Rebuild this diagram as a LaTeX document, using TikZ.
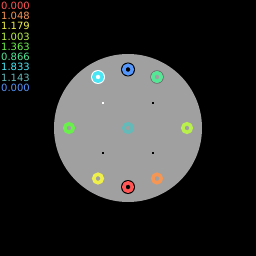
\documentclass[tikz,border=0pt]{standalone}
\usepackage{fontspec}
\newfontfamily\valfont{DejaVu Sans}
\usepackage{tikz}
\usetikzlibrary{positioning}

\definecolor{disk}{RGB}{160,160,160}
\definecolor{cred}{RGB}{255,85,85}
\definecolor{corange}{RGB}{245,150,85}
\definecolor{cyellow}{RGB}{240,240,75}
\definecolor{cyg}{RGB}{185,240,75}
\definecolor{cgreen}{RGB}{105,240,75}
\definecolor{cmint}{RGB}{85,230,150}
\definecolor{ccyan}{RGB}{75,230,245}
\definecolor{cteal}{RGB}{100,185,185}
\definecolor{cblue}{RGB}{85,150,250}

\begin{document}
\begin{tikzpicture}[x=1pt, y=-1pt,
    ring/.style={circle, draw=#1, line width=3.5pt, minimum size=8.5pt, inner sep=0pt},
    halo/.style={circle, fill=#1, minimum size=14pt, inner sep=0pt},
    rim/.style={circle, draw=#1, line width=0.8pt, minimum size=12.6pt, inner sep=0pt},
    pin/.style={fill=#1, minimum size=2pt, inner sep=0pt},
    val/.style={text=#1, font=\valfont\fontsize{10}{10}\selectfont, inner sep=0pt, anchor=west}]
        % background and field
        \fill[black] (0,0) rectangle (256,256);
        \useasboundingbox (0,0) rectangle (256,256);
        \fill[disk] (128,128) circle (74);

        % values
        \foreach \v/\c [count=\i from 0] in {0.000/cred, 1.048/corange, 1.179/cyellow, 1.003/cyg,
            1.363/cgreen, 0.866/cmint, 1.833/ccyan, 1.143/cteal, 0.000/cblue}
            \node[val=\c] (v\i) at (1, 5.5+10.3*\i) {\v};

        % small marks
        \node[pin=white] (m0) at (103,103) {};
        \node[pin=black] (m1) at (153,103) {};
        \node[pin=black] (m2) at (103,153) {};
        \node[pin=black] (m3) at (153,153) {};

        % rings
        \node[halo=black] (hb) at (128,69.5) {};
        \node[ring=cblue] (rblue) at (hb) {};
        \node[halo=white] (hc) at (98,77) {};
        \node[ring=ccyan] (rcyan) at (hc) {};
        \node[rim=black!60] (hm) at (157,77) {};
        \node[ring=cmint] (rmint) at (hm) {};
        \node[ring=cgreen] (rgreen) at (69,128) {};
        \node[ring=cteal] (rteal) at (128,128) {};
        \node[ring=cyg] (ryg) at (187,128) {};
        \node[ring=cyellow] (ryellow) at (98,178.5) {};
        \node[ring=corange] (rorange) at (157,178.5) {};
        \node[halo=black] (hr) at (128,187) {};
        \node[ring=cred] (rred) at (hr) {};
    \end{tikzpicture}
\end{document}
